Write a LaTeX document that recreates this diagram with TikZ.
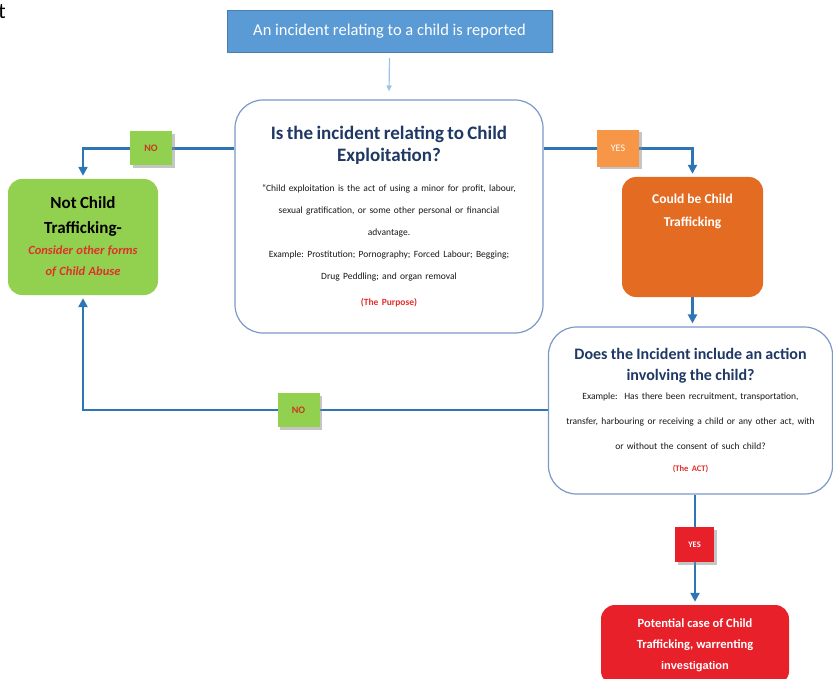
\documentclass[tikz,border=0pt]{standalone}
\usepackage{fontspec}
\setmainfont{Carlito}
\newfontfamily\arialfont{Liberation Sans}
\usetikzlibrary{arrows.meta,shadows,backgrounds}
\frenchspacing

\definecolor{topblue}{HTML}{5B9BD5}
\definecolor{feedblue}{HTML}{9DC3E6}
\definecolor{lineblue}{HTML}{2E75B6}
\definecolor{frameblue}{HTML}{7A98C8}
\definecolor{navy}{HTML}{1F3864}
\definecolor{leafgreen}{HTML}{92D050}
\definecolor{tagorange}{HTML}{F79646}
\definecolor{boxorange}{HTML}{E46C22}
\definecolor{alarmred}{HTML}{E8202A}
\definecolor{markred}{HTML}{E0302A}
\definecolor{notext}{HTML}{C8391E}

\newcommand{\qtitle}{\fontsize{19}{22}\selectfont\bfseries\color{navy}}
\newcommand{\qbody}{\fontsize{9.5}{22}\selectfont\color{black!90}}

\begin{document}
\begin{tikzpicture}[line cap=round,line join=round,
  >={Triangle[length=9pt,width=9pt]},x=1pt,y=-1pt,
  flow/.style={draw=lineblue,line width=2.6pt,->,shorten >=3pt},
  feed/.style={draw=feedblue,line width=1.2pt,-{Triangle[length=6pt,width=5pt]}},
  tag/.style={minimum width=42pt,minimum height=34pt,inner sep=0pt,
    font=\fontsize{10}{12}\selectfont,
    drop shadow={shadow xshift=2.5pt,shadow yshift=-2.5pt,fill=black!45,opacity=.5}},
  askbox/.style={draw=frameblue,line width=1.2pt,fill=white,rounded corners=28pt,
    align=center,inner sep=6pt},
  leafbox/.style={rounded corners=14pt,align=center,inner sep=5pt}]
  \useasboundingbox (0,0) rectangle (833,679);

  % page fragment
  \node[inner sep=0pt,anchor=east,font=\fontsize{22}{22}\selectfont] (pagecut) at (6,12) {t};

  % start
  \node[fill=topblue,draw=topblue!80!black,text=white,minimum width=325pt,
    minimum height=42pt,font=\fontsize{16.5}{18}\selectfont,
    drop shadow={shadow xshift=1.5pt,shadow yshift=-1.5pt,fill=black!30,opacity=.4}]
    (report) at (389.5,31) {An incident relating to a child is reported};

  % first question
  \node[askbox,minimum width=308pt,minimum height=233pt,text width=294pt]
    (purpose) at (389,216.5) {{\qtitle Is the incident relating to Child\\Exploitation?\par}
    \vspace{8pt}
    {\qbody “Child exploitation is the act of using a minor for profit, labour,\\
    sexual gratification, or some other personal or financial\\
    advantage.\\
    Example: Prostitution; Pornography; Forced Labour; Begging;\\
    Drug Peddling; and organ removal\par}
    \vspace{4pt}
    {\qbody\bfseries\color{markred}(The Purpose)\par}};

  % outcomes of first question
  \node[leafbox,fill=leafgreen,minimum width=150pt,minimum height=116pt,text width=140pt]
    (notct) at (83,237) {{\fontsize{17}{25}\selectfont\bfseries Not Child\\Trafficking-\par}
    {\fontsize{12.5}{21}\selectfont\bfseries\itshape\color{markred}Consider other forms\\of Child Abuse\par}};
  \node[leafbox,fill=boxorange,text=white,inner sep=8pt]
    (maybe) at (692.5,237) {\parbox[t][104pt][t]{125pt}{\centering
    \fontsize{13.5}{23}\selectfont\bfseries\vspace*{9pt}Could be Child\\Trafficking}};

  % second question
  \node[askbox,minimum width=281pt,minimum height=167pt,text width=272pt]
    (act) at (690.5,410.5) {{\fontsize{16}{21}\selectfont\bfseries\color{navy}Does the Incident include an action\\involving the child?\par}
    \vspace{-6pt}
    {\fontsize{9.5}{25}\selectfont\color{black!90}Example:~ Has there been recruitment, transportation,\\
    transfer, harbouring or receiving a child or any other act, with\\
    or without the consent of such child?\par}
    {\fontsize{8.5}{22}\selectfont\bfseries\color{markred}(The ACT)\par}};

  \node[leafbox,fill=alarmred,text=white,minimum width=188pt,minimum height=80pt,
    font=\fontsize{12.5}{21}\selectfont\bfseries]
    (potential) at (695,645) {Potential case of Child\\Trafficking, warrenting\\
    {\arialfont\fontsize{11}{20}\selectfont\bfseries investigation}};

  % answer tags
  \node[tag,fill=leafgreen,text=notext,font=\fontsize{10}{12}\selectfont\bfseries]
    (no1) at (151,148.5) {NO};
  \node[tag,fill=tagorange,text=white,minimum height=37pt] (yes1) at (618,148.5) {YES};
  \node[tag,fill=leafgreen,text=notext,font=\fontsize{10}{12}\selectfont\bfseries]
    (no2) at (298.5,410) {NO};
  \node[tag,fill=alarmred,text=white,minimum width=39pt,minimum height=35pt,
    font=\fontsize{8.5}{10}\selectfont\bfseries] (yes2) at (694.5,544.5) {YES};

  % connectors
  \begin{scope}[on background layer]
    \draw[feed] ([yshift=-6pt]report.south) -- ([yshift=8pt]purpose.north);
    \draw[flow] (purpose.west |- no1) -- (notct.north |- no1) -- (notct.north);
    \draw[flow] (purpose.east |- yes1) -- (maybe.north |- yes1) -- (maybe.north);
    \draw[flow] (maybe.south) -- (maybe.south |- act.north);
    \draw[flow] (act.west |- no2) -- (notct.south |- no2) -- (notct.south);
    \draw[flow] (potential.north |- act.south) -- (potential.north);
  \end{scope}
\end{tikzpicture}
\end{document}
